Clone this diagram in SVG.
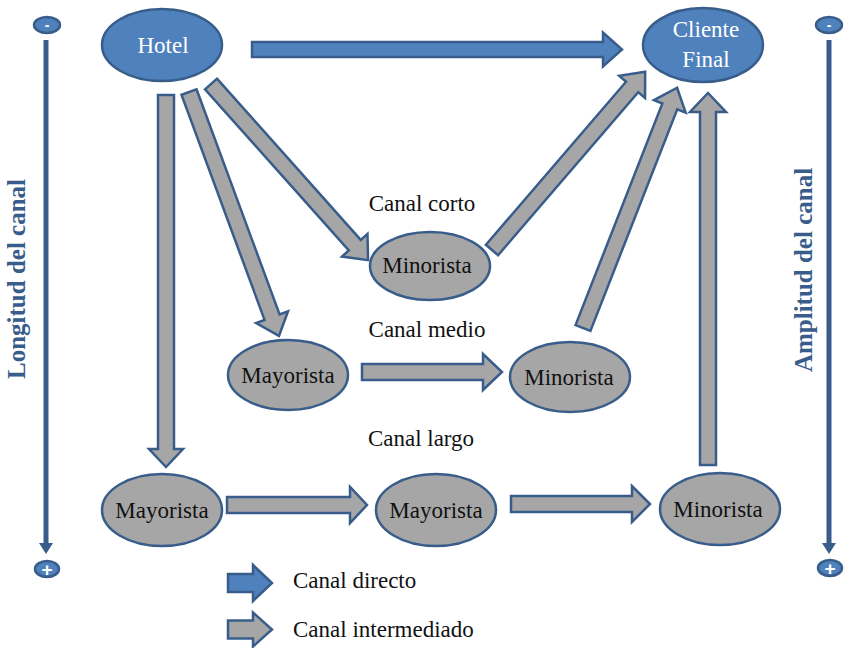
<svg xmlns="http://www.w3.org/2000/svg" width="848" height="648" viewBox="0 0 848 648">
  <style>
    .blue { fill: #4F81BD; stroke: #385D8A; stroke-width: 2.5; }
    .gray { fill: #A6A6A6; stroke: #385D8A; stroke-width: 2.5; }
    .axis { stroke: #385D8A; stroke-width: 5; fill: none; }
    .axhead { fill: #385D8A; }
    text { font-family: 'Liberation Serif', 'DejaVu Serif', serif; }
    .lbl { font-size: 23px; fill: #111; }
    .wlbl { font-size: 23px; fill: #ffffff; }
    .axlbl { font-size: 25px; font-weight: bold; fill: #385D8A; }
    .sign { font-family: 'Liberation Sans', sans-serif; font-weight: bold; fill: #ffffff; }
  </style>

  <!-- side axes -->
  <g id="axis-longitud">
    <line class="axis" x1="46" y1="40" x2="46" y2="545"/>
    <polygon class="axhead" points="39,543 53,543 46,554"/>
    <ellipse class="blue" cx="47" cy="25" rx="13" ry="8"/>
    <text class="sign" x="47" y="30" font-size="14" text-anchor="middle">-</text>
    <ellipse class="blue" cx="47" cy="569" rx="12" ry="8"/>
    <text class="sign" x="47" y="576" font-size="19" text-anchor="middle">+</text>
    <text class="axlbl" transform="translate(25,279) rotate(-90)" text-anchor="middle">Longitud del canal</text>
  </g>
  <g id="axis-amplitud">
    <line class="axis" x1="829" y1="40" x2="829" y2="545"/>
    <polygon class="axhead" points="822,543 836,543 829,554"/>
    <ellipse class="blue" cx="829" cy="25" rx="13" ry="8"/>
    <text class="sign" x="829" y="30" font-size="14" text-anchor="middle">-</text>
    <ellipse class="blue" cx="830" cy="568" rx="12" ry="8"/>
    <text class="sign" x="830" y="575" font-size="19" text-anchor="middle">+</text>
    <text class="axlbl" transform="translate(812,270) rotate(-90)" text-anchor="middle">Amplitud del canal</text>
  </g>

  <!-- channel connectors (block arrows, drawn along local x axis) -->
  <g id="connectors">
    <path class="blue" transform="translate(252,49.5)" d="M0,-7.5 H351 V-17 L370,0 L351,17 V7.5 H0 Z"/>
    <path class="gray" transform="translate(211,84) rotate(48.27)" d="M0,-8 H216 V-17 L236,0 L216,17 V8 H0 Z"/>
    <path class="gray" transform="translate(189,92) rotate(69.75)" d="M0,-8 H240 V-17 L260,0 L240,17 V8 H0 Z"/>
    <path class="gray" transform="translate(166,95) rotate(90)" d="M0,-8 H354 V-17 L372,0 L354,17 V8 H0 Z"/>
    <path class="gray" transform="translate(362,372)" d="M0,-8 H121 V-18 L140,0 L121,18 V8 H0 Z"/>
    <path class="gray" transform="translate(227,505)" d="M0,-8 H123 V-18 L140,0 L123,18 V8 H0 Z"/>
    <path class="gray" transform="translate(511,504)" d="M0,-8 H121 V-18 L139,0 L121,18 V8 H0 Z"/>
    <path class="gray" transform="translate(492,250) rotate(-49.32)" d="M0,-8 H215 V-17 L235,0 L215,17 V8 H0 Z"/>
    <path class="gray" transform="translate(583,328) rotate(-68.61)" d="M0,-8 H238 V-17 L258,0 L238,17 V8 H0 Z"/>
    <path class="gray" transform="translate(708,465) rotate(-90)" d="M0,-8 H353 V-18 L372,0 L353,18 V8 H0 Z"/>
  </g>

  <!-- nodes -->
  <g id="hotel">
    <ellipse class="blue" cx="162" cy="45" rx="60" ry="36"/>
    <text class="wlbl" x="163" y="53" text-anchor="middle">Hotel</text>
  </g>
  <g id="cliente-final">
    <ellipse class="blue" cx="703" cy="45" rx="60" ry="37"/>
    <text class="wlbl" x="706" y="37" text-anchor="middle">Cliente</text>
    <text class="wlbl" x="706" y="67" text-anchor="middle">Final</text>
  </g>
  <g id="minorista-corto">
    <ellipse class="gray" cx="430" cy="266" rx="60" ry="34"/>
    <text class="lbl" x="427" y="273" text-anchor="middle">Minorista</text>
  </g>
  <g id="mayorista-medio">
    <ellipse class="gray" cx="288" cy="375" rx="60" ry="35"/>
    <text class="lbl" x="288" y="383" text-anchor="middle">Mayorista</text>
  </g>
  <g id="minorista-medio">
    <ellipse class="gray" cx="570" cy="377" rx="60" ry="35"/>
    <text class="lbl" x="569" y="385" text-anchor="middle">Minorista</text>
  </g>
  <g id="mayorista-largo-1">
    <ellipse class="gray" cx="162" cy="510" rx="60" ry="36"/>
    <text class="lbl" x="162" y="518" text-anchor="middle">Mayorista</text>
  </g>
  <g id="mayorista-largo-2">
    <ellipse class="gray" cx="436" cy="510" rx="60" ry="36"/>
    <text class="lbl" x="436" y="518" text-anchor="middle">Mayorista</text>
  </g>
  <g id="minorista-largo">
    <ellipse class="gray" cx="720" cy="509" rx="60" ry="36"/>
    <text class="lbl" x="718" y="517" text-anchor="middle">Minorista</text>
  </g>

  <!-- channel labels -->
  <g id="labels">
    <text class="lbl" x="422" y="211" text-anchor="middle">Canal corto</text>
    <text class="lbl" x="427" y="337" text-anchor="middle">Canal medio</text>
    <text class="lbl" x="421" y="446" text-anchor="middle">Canal largo</text>
  </g>

  <!-- legend -->
  <g id="legend">
    <path class="blue" transform="translate(228,583)" d="M0,-9 H25 V-18 L44,0 L25,18 V9 H0 Z"/>
    <text class="lbl" x="293" y="588">Canal directo</text>
    <path class="gray" transform="translate(228,629.5)" d="M0,-9 H25 V-17 L44,0 L25,17 V9 H0 Z"/>
    <text class="lbl" x="293" y="637">Canal intermediado</text>
  </g>
</svg>
